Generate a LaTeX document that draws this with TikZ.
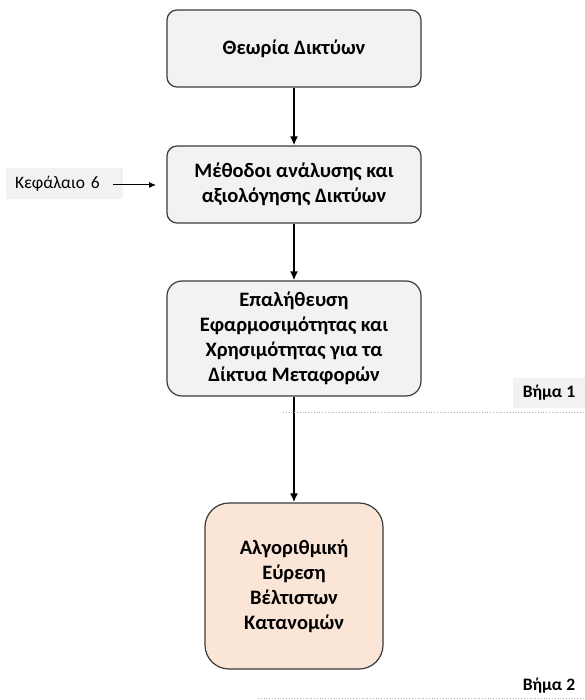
\documentclass[tikz,border=0pt]{standalone}
\usepackage{fontspec}
\setmainfont{Carlito}
\usetikzlibrary{arrows.meta}
\definecolor{boxgray}{HTML}{F2F2F2}
\definecolor{boxpeach}{HTML}{FBE5D6}
\definecolor{edgegray}{HTML}{3A3A3A}
\definecolor{sepgray}{HTML}{B0B0B0}
\tikzset{
  stagebox/.style={draw=edgegray, line width=1.2pt, fill=boxgray, rounded corners=10pt,
    align=center, font=\bfseries\fontsize{20.5}{25}\selectfont, inner sep=0pt},
  flow/.style={line width=2pt, -{Latex[length=9pt,width=8pt]}},
  sidenote/.style={fill=boxgray, inner xsep=9pt, inner ysep=0pt, align=left,
    font=\fontsize{17.5}{20}\selectfont},
  steplabel/.style={inner sep=0pt, font=\bfseries\fontsize{17.5}{20}\selectfont},
  separator/.style={sepgray, line width=0.8pt, dotted}
}
\begin{document}
\begin{tikzpicture}[x=1pt,y=-1pt]
\useasboundingbox (0,0) rectangle (585,700);

\node[stagebox, minimum width=254pt, minimum height=77pt] (theory) at (294,48.5) {Θεωρία Δικτύων};
\node[stagebox, minimum width=254pt, minimum height=77pt] (methods) at (294,184.5)
  {Μέθοδοι ανάλυσης και\\αξιολόγησης Δικτύων};
\node[stagebox, rounded corners=15pt, minimum width=254pt, minimum height=115pt] (verify) at (294,338.5)
  {Επαλήθευση\\Εφαρμοσιμότητας και\\Χρησιμότητας για τα\\Δίκτυα Μεταφορών};
\node[stagebox, fill=boxpeach, rounded corners=24pt, minimum width=178pt, minimum height=166pt] (algo) at (294,586)
  {Αλγοριθμική\\Εύρεση\\Βέλτιστων\\Κατανομών};

\node[sidenote, text width=99pt, minimum height=31pt] (chapter) at (64.5,183.5) {Κεφάλαιο 6};
\coordinate (chapterfrom) at (113,185);
\coordinate (chapterto) at (156,185);
\draw[line width=1pt, -{Latex[length=7pt,width=6pt]}] (chapterfrom) -- (chapterto);

\draw[flow] (theory) -- (methods);
\draw[flow] (methods) -- (verify);
\draw[flow] (verify) -- (algo);

\node[steplabel, fill=boxgray, minimum width=72pt, minimum height=30pt] (step1) at (549,393) {Βήμα 1};
\node[steplabel] (step2) at (549,686) {Βήμα 2};

\coordinate (sep1a) at (283,412);
\coordinate (sep1b) at (585,412);
\coordinate (sep2a) at (258,698);
\coordinate (sep2b) at (585,698);
\draw[separator] (sep1a) -- (sep1b);
\draw[separator] (sep2a) -- (sep2b);
\end{tikzpicture}
\end{document}
